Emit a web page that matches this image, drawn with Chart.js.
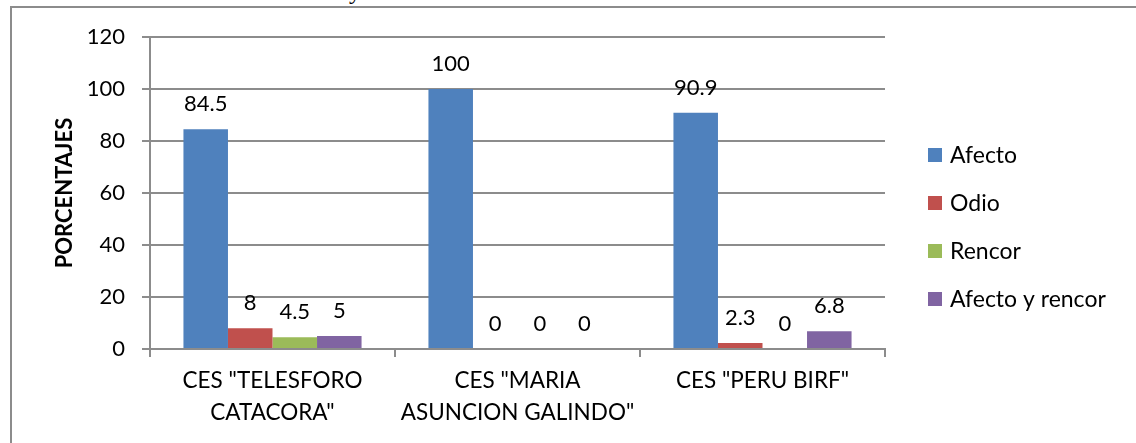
<!DOCTYPE html>
<html>
<head>
<meta charset="utf-8">
<script src="https://cdn.jsdelivr.net/npm/chart.js@4"></script>
<style>
  html, body { margin: 0; padding: 0; background: #fff; overflow: hidden; }
  #wrap { position: relative; width: 1136px; height: 443px; }
  #frame { position: absolute; left: 10px; top: 6px; width: 1140px; height: 460px;
           border-left: 2px solid #8c8c8c; border-top: 2px solid #8c8c8c; box-sizing: border-box; }
  #cut { position: absolute; left: 349px; top: -22px; font: 24px "Liberation Serif", serif; color: #000; }
  canvas { position: absolute; left: 0; top: 0; }
</style>
</head>
<body>
<div id="wrap">
  <div id="frame"></div>
  <div id="cut">y</div>
  <canvas id="chart" width="1136" height="443"></canvas>
</div>
<script>
const categories = [['CES "TELESFORO', 'CATACORA"'], ['CES "MARIA', 'ASUNCION GALINDO"'], ['CES "PERU BIRF"']];
const seriesNames = ['Afecto', 'Odio', 'Rencor', 'Afecto y rencor'];
const afecto = [84.5, 100, 90.9];
const odio = [8, 0, 2.3];
const rencor = [4.5, 0, 0];
const afectoRencor = [5, 0, 6.8];
const colors = ['#4F81BD', '#C0504D', '#9BBB59', '#8064A2'];
const yTicks = [0, 20, 40, 60, 80, 100, 120];

const FONT = 'Lato, "Open Sans", sans-serif';
const GRID = '#8c8c8c';

// value labels above bars
const valueLabels = {
  id: 'valueLabels',
  afterDatasetsDraw(chart) {
    const ctx = chart.ctx;
    ctx.save();
    ctx.font = '22px ' + FONT;
    ctx.fillStyle = '#000';
    ctx.textAlign = 'center';
    ctx.textBaseline = 'alphabetic';
    chart.data.datasets.forEach((ds, i) => {
      chart.getDatasetMeta(i).data.forEach((bar, j) => {
        ctx.fillText(String(ds.data[j]), bar.x, bar.y - 18);
      });
    });
    ctx.restore();
  }
};

// legend drawn to the right of the plot
const sideLegend = {
  id: 'sideLegend',
  afterDraw(chart) {
    const ctx = chart.ctx;
    ctx.save();
    ctx.font = '23px ' + FONT;
    ctx.textBaseline = 'middle';
    ctx.textAlign = 'left';
    const x = 928, y0 = 155, step = 48;
    chart.data.datasets.forEach((ds, i) => {
      const y = y0 + i * step;
      ctx.fillStyle = ds.backgroundColor;
      ctx.fillRect(x, y - 7, 14, 14);
      ctx.fillStyle = '#000';
      ctx.fillText(ds.label, x + 22, y + 1);
    });
    ctx.restore();
  }
};

new Chart(document.getElementById('chart').getContext('2d'), {
  type: 'bar',
  data: {
    labels: categories,
    datasets: [afecto, odio, rencor, afectoRencor].map((d, i) => ({
      label: seriesNames[i],
      data: d,
      backgroundColor: colors[i],
      borderWidth: 0,
      categoryPercentage: 0.727,
      barPercentage: 1
    }))
  },
  options: {
    responsive: false,
    animation: false,
    layout: { padding: { top: 37, right: 251, left: 0, bottom: 0 } },
    plugins: { legend: { display: false }, tooltip: { enabled: false } },
    scales: {
      x: {
        offset: true,
        grid: { display: true, drawOnChartArea: false, drawTicks: true, tickLength: 8, color: GRID, lineWidth: 2, offset: true },
        border: { display: true, color: GRID, width: 2 },
        ticks: { color: '#000', font: { size: 22.5, family: FONT, lineHeight: 1.45 }, padding: 7, maxRotation: 0, autoSkip: false },
        afterFit(scale) { scale.height = 94; }
      },
      y: {
        min: 0,
        max: 120,
        afterBuildTicks(scale) { scale.ticks = yTicks.map(v => ({ value: v })); },
        grid: { color: GRID, lineWidth: 2, tickLength: 8 },
        border: { display: true, color: GRID, width: 2 },
        ticks: { color: '#000', font: { size: 22, family: FONT }, padding: 17 },
        title: { display: true, text: 'PORCENTAJES', color: '#000', font: { size: 22, weight: 'bold', family: FONT }, padding: { top: 52, bottom: 0 } },
        afterFit(scale) { scale.width = 150; }
      }
    }
  },
  plugins: [valueLabels, sideLegend]
});
</script>
</body>
</html>
